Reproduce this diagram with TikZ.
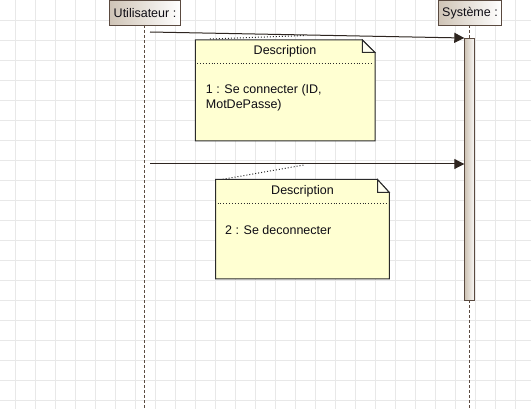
\documentclass[tikz,border=0pt]{standalone}
\usepackage{fontspec}
\setmainfont{Liberation Sans}
\usetikzlibrary{arrows.meta}
\definecolor{gridc}{HTML}{E8E8E8}
\definecolor{linec}{HTML}{5A4A40}
\definecolor{msgc}{HTML}{2E2520}
\definecolor{notefill}{HTML}{FFFFD2}
\definecolor{notedraw}{HTML}{2A2A2A}
\definecolor{boxleft}{HTML}{CFC4B6}
\definecolor{txtc}{HTML}{0E0C14}
\tikzset{
  gridline/.style={gridc, line width=0.8pt},
  actorbox/.style={draw=linec, line width=1pt, left color=boxleft, right color=white,
    minimum height=25pt, inner sep=0pt, text=txtc, font=\fontsize{12.5}{14}\selectfont},
  lifeline/.style={linec, line width=1pt, dash pattern=on 3pt off 2pt},
  activation/.style={draw=linec, line width=1pt, left color=boxleft, right color=white!95!boxleft},
  message/.style={msgc, line width=1pt, -{Triangle[length=10pt,width=10pt]}},
  notebody/.style={draw=notedraw, line width=1pt, fill=notefill},
  notelink/.style={notedraw, line width=1pt, dotted},
  sep/.style={notedraw, line width=0.9pt, dotted},
  notetext/.style={font=\fontsize{12.5}{15}\selectfont, text=txtc, inner sep=0pt},
}
\begin{document}
\begin{tikzpicture}[x=1pt, y=-1pt]
\useasboundingbox[fill=white] (0,0) rectangle (531,409);
% background grid
\foreach \gx in {15,35,...,515} \draw[gridline] (\gx,0) -- (\gx,409);
\foreach \gy in {20,40,...,400} \draw[gridline] (0,\gy) -- (531,\gy);

% participants
\node[actorbox, minimum width=71pt, anchor=north west] (user) at (109,0) {Utilisateur :};
\node[actorbox, minimum width=63pt, anchor=north west] (sys) at (438,0) {Système :};

% lifelines
\coordinate (userend) at (144.5,409);
\coordinate (sysend) at (469.3,409);
\draw[lifeline] (144.5,25) -- (userend);
\draw[lifeline] (469.3,25) -- (469.3,38);
\draw[lifeline] (469.3,300) -- (sysend);

% activation bar
\node[activation, anchor=north west, minimum width=10pt, minimum height=262pt, inner sep=0pt] (act) at (464.3,38) {};

% messages
\coordinate (m1s) at (150,32);
\coordinate (m1e) at (464.3,38);
\coordinate (m2s) at (150,164);
\coordinate (m2e) at (464.3,164);
\draw[message] (m1s) -- (m1e);
\draw[message] (m2s) -- (m2e);

% note 1
\draw[notebody] (195.3,40) -- (362.3,40) -- (375,52.5) -- (375,141) -- (195.3,141) -- cycle;
\draw[notebody, fill=white!70!notefill] (362.3,40) -- (362.3,52.5) -- (375,52.5) -- cycle;
\draw[sep] (197,63.3) -- (373,63.3);
\node[notetext] (n1title) at (285,51) {Description};
\node[notetext, anchor=west, align=left] (n1text) at (205.7,97.5) {1 : Se connecter (ID,\\MotDePasse)};
\coordinate (n1anchor) at (210,39);
\coordinate (m1pt) at (306,35.5);
\draw[notelink] (n1anchor) -- (m1pt);

% note 2
\draw[notebody] (215.7,179.5) -- (377.5,179.5) -- (389.3,192.5) -- (389.3,279) -- (215.7,279) -- cycle;
\draw[notebody, fill=white!70!notefill] (377.5,179.5) -- (377.5,192.5) -- (389.3,192.5) -- cycle;
\draw[sep] (217.5,203) -- (387.5,203);
\node[notetext] (n2title) at (302.5,191) {Description};
\node[notetext, anchor=west] (n2text) at (225,230) {2 : Se deconnecter};
\coordinate (n2anchor) at (222.7,179.3);
\coordinate (m2pt) at (304,165);
\draw[notelink] (n2anchor) -- (m2pt);
\end{tikzpicture}
\end{document}
